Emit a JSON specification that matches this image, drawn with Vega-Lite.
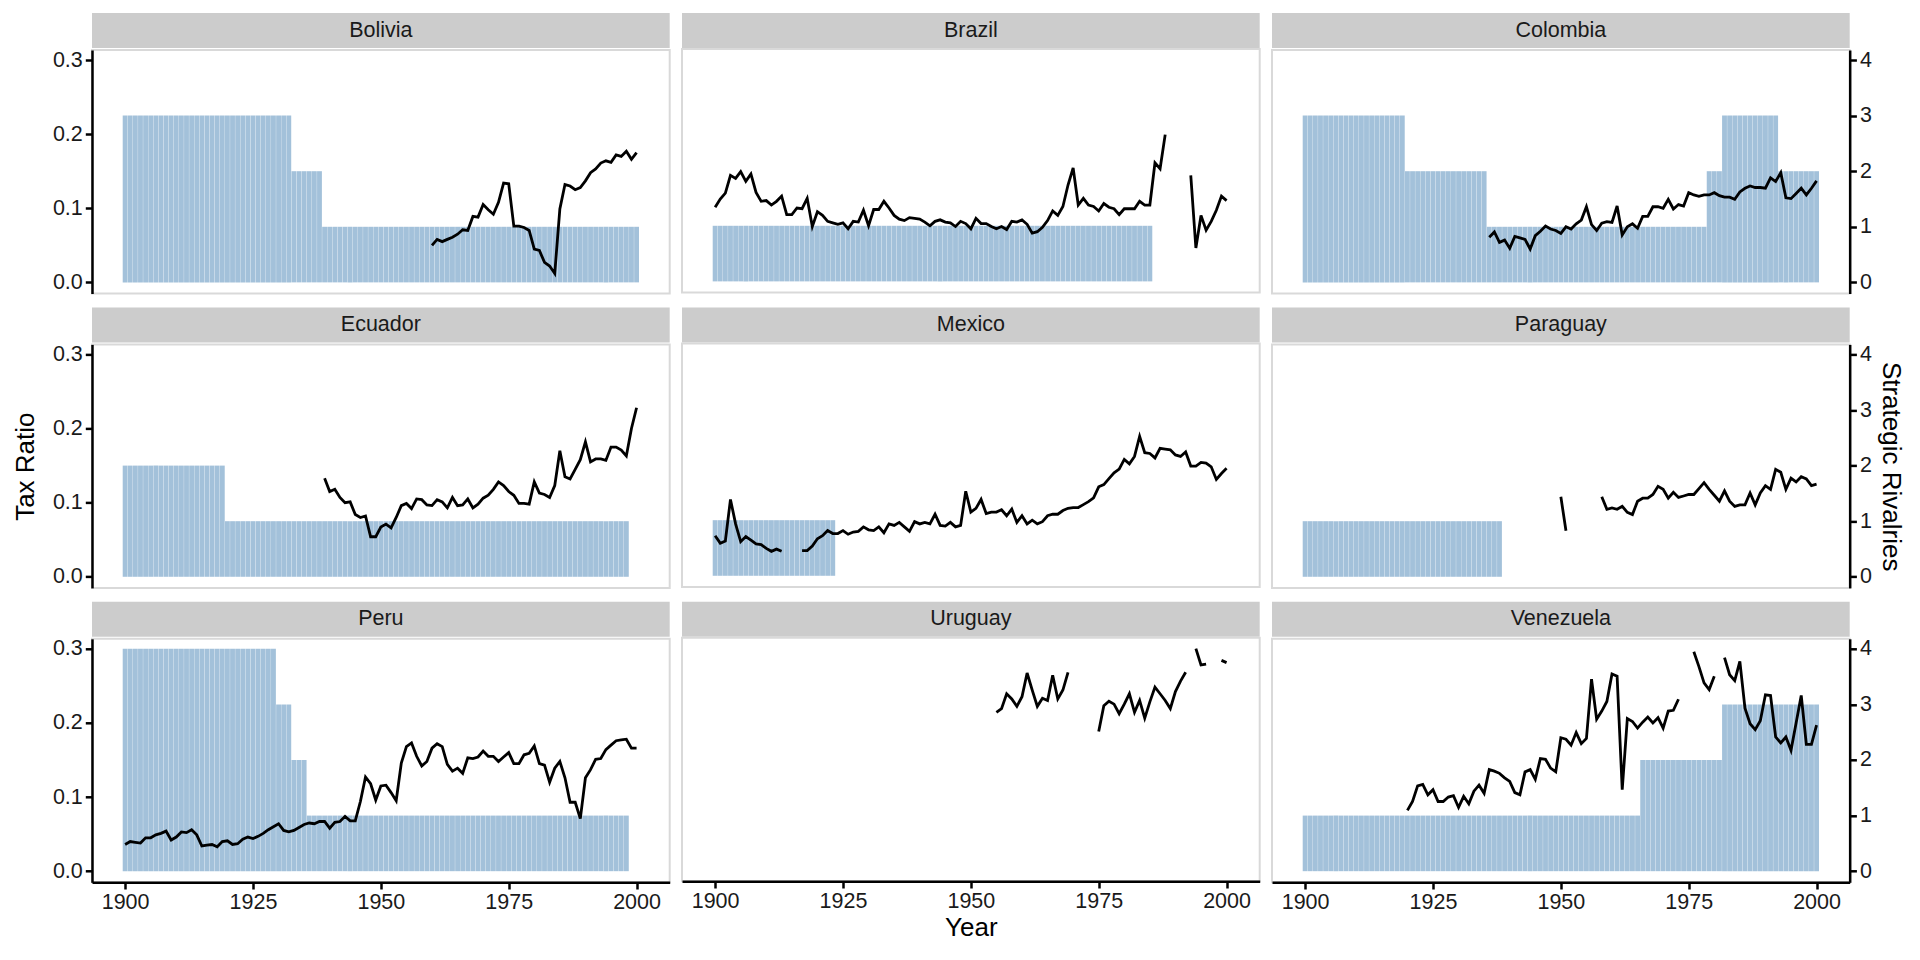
{
"$schema":"https://vega.github.io/schema/vega-lite/v6.json",
"background":"white",
"padding":{"left":11,"top":13,"right":10,"bottom":10},
"datasets":{
"Bolivia":[{"year":1900,"riv":3},{"year":1901,"riv":3},{"year":1902,"riv":3},{"year":1903,"riv":3},{"year":1904,"riv":3},{"year":1905,"riv":3},{"year":1906,"riv":3},{"year":1907,"riv":3},{"year":1908,"riv":3},{"year":1909,"riv":3},{"year":1910,"riv":3},{"year":1911,"riv":3},{"year":1912,"riv":3},{"year":1913,"riv":3},{"year":1914,"riv":3},{"year":1915,"riv":3},{"year":1916,"riv":3},{"year":1917,"riv":3},{"year":1918,"riv":3},{"year":1919,"riv":3},{"year":1920,"riv":3},{"year":1921,"riv":3},{"year":1922,"riv":3},{"year":1923,"riv":3},{"year":1924,"riv":3},{"year":1925,"riv":3},{"year":1926,"riv":3},{"year":1927,"riv":3},{"year":1928,"riv":3},{"year":1929,"riv":3},{"year":1930,"riv":3},{"year":1931,"riv":3},{"year":1932,"riv":3},{"year":1933,"riv":2},{"year":1934,"riv":2},{"year":1935,"riv":2},{"year":1936,"riv":2},{"year":1937,"riv":2},{"year":1938,"riv":2},{"year":1939,"riv":1},{"year":1940,"riv":1},{"year":1941,"riv":1},{"year":1942,"riv":1},{"year":1943,"riv":1},{"year":1944,"riv":1},{"year":1945,"riv":1},{"year":1946,"riv":1},{"year":1947,"riv":1},{"year":1948,"riv":1},{"year":1949,"riv":1},{"year":1950,"riv":1},{"year":1951,"riv":1},{"year":1952,"riv":1},{"year":1953,"riv":1},{"year":1954,"riv":1},{"year":1955,"riv":1},{"year":1956,"riv":1},{"year":1957,"riv":1},{"year":1958,"riv":1},{"year":1959,"riv":1},{"year":1960,"riv":1,"tax":0.050},{"year":1961,"riv":1,"tax":0.058},{"year":1962,"riv":1,"tax":0.055},{"year":1963,"riv":1,"tax":0.058},{"year":1964,"riv":1,"tax":0.061},{"year":1965,"riv":1,"tax":0.065},{"year":1966,"riv":1,"tax":0.071},{"year":1967,"riv":1,"tax":0.070},{"year":1968,"riv":1,"tax":0.089},{"year":1969,"riv":1,"tax":0.088},{"year":1970,"riv":1,"tax":0.105},{"year":1971,"riv":1,"tax":0.098},{"year":1972,"riv":1,"tax":0.092},{"year":1973,"riv":1,"tax":0.108},{"year":1974,"riv":1,"tax":0.134},{"year":1975,"riv":1,"tax":0.133},{"year":1976,"riv":1,"tax":0.076},{"year":1977,"riv":1,"tax":0.076},{"year":1978,"riv":1,"tax":0.074},{"year":1979,"riv":1,"tax":0.070},{"year":1980,"riv":1,"tax":0.045},{"year":1981,"riv":1,"tax":0.043},{"year":1982,"riv":1,"tax":0.027},{"year":1983,"riv":1,"tax":0.022},{"year":1984,"riv":1,"tax":0.012},{"year":1985,"riv":1,"tax":0.099},{"year":1986,"riv":1,"tax":0.132},{"year":1987,"riv":1,"tax":0.130},{"year":1988,"riv":1,"tax":0.125},{"year":1989,"riv":1,"tax":0.128},{"year":1990,"riv":1,"tax":0.137},{"year":1991,"riv":1,"tax":0.148},{"year":1992,"riv":1,"tax":0.153},{"year":1993,"riv":1,"tax":0.161},{"year":1994,"riv":1,"tax":0.164},{"year":1995,"riv":1,"tax":0.162},{"year":1996,"riv":1,"tax":0.172},{"year":1997,"riv":1,"tax":0.170},{"year":1998,"riv":1,"tax":0.177},{"year":1999,"riv":1,"tax":0.166},{"year":2000,"riv":1,"tax":0.175}],
"Brazil":[{"year":1900,"riv":1,"tax":0.100},{"year":1901,"riv":1,"tax":0.111},{"year":1902,"riv":1,"tax":0.119},{"year":1903,"riv":1,"tax":0.143},{"year":1904,"riv":1,"tax":0.139},{"year":1905,"riv":1,"tax":0.148},{"year":1906,"riv":1,"tax":0.135},{"year":1907,"riv":1,"tax":0.145},{"year":1908,"riv":1,"tax":0.120},{"year":1909,"riv":1,"tax":0.108},{"year":1910,"riv":1,"tax":0.109},{"year":1911,"riv":1,"tax":0.103},{"year":1912,"riv":1,"tax":0.108},{"year":1913,"riv":1,"tax":0.115},{"year":1914,"riv":1,"tax":0.090},{"year":1915,"riv":1,"tax":0.090},{"year":1916,"riv":1,"tax":0.099},{"year":1917,"riv":1,"tax":0.098},{"year":1918,"riv":1,"tax":0.112},{"year":1919,"riv":1,"tax":0.074},{"year":1920,"riv":1,"tax":0.094},{"year":1921,"riv":1,"tax":0.089},{"year":1922,"riv":1,"tax":0.081},{"year":1923,"riv":1,"tax":0.079},{"year":1924,"riv":1,"tax":0.077},{"year":1925,"riv":1,"tax":0.079},{"year":1926,"riv":1,"tax":0.071},{"year":1927,"riv":1,"tax":0.081},{"year":1928,"riv":1,"tax":0.080},{"year":1929,"riv":1,"tax":0.096},{"year":1930,"riv":1,"tax":0.075},{"year":1931,"riv":1,"tax":0.097},{"year":1932,"riv":1,"tax":0.097},{"year":1933,"riv":1,"tax":0.108},{"year":1934,"riv":1,"tax":0.099},{"year":1935,"riv":1,"tax":0.089},{"year":1936,"riv":1,"tax":0.084},{"year":1937,"riv":1,"tax":0.082},{"year":1938,"riv":1,"tax":0.086},{"year":1939,"riv":1,"tax":0.085},{"year":1940,"riv":1,"tax":0.084},{"year":1941,"riv":1,"tax":0.080},{"year":1942,"riv":1,"tax":0.075},{"year":1943,"riv":1,"tax":0.081},{"year":1944,"riv":1,"tax":0.083},{"year":1945,"riv":1,"tax":0.080},{"year":1946,"riv":1,"tax":0.079},{"year":1947,"riv":1,"tax":0.074},{"year":1948,"riv":1,"tax":0.081},{"year":1949,"riv":1,"tax":0.078},{"year":1950,"riv":1,"tax":0.071},{"year":1951,"riv":1,"tax":0.085},{"year":1952,"riv":1,"tax":0.078},{"year":1953,"riv":1,"tax":0.078},{"year":1954,"riv":1,"tax":0.074},{"year":1955,"riv":1,"tax":0.071},{"year":1956,"riv":1,"tax":0.074},{"year":1957,"riv":1,"tax":0.070},{"year":1958,"riv":1,"tax":0.081},{"year":1959,"riv":1,"tax":0.080},{"year":1960,"riv":1,"tax":0.083},{"year":1961,"riv":1,"tax":0.077},{"year":1962,"riv":1,"tax":0.065},{"year":1963,"riv":1,"tax":0.067},{"year":1964,"riv":1,"tax":0.073},{"year":1965,"riv":1,"tax":0.082},{"year":1966,"riv":1,"tax":0.095},{"year":1967,"riv":1,"tax":0.089},{"year":1968,"riv":1,"tax":0.101},{"year":1969,"riv":1,"tax":0.130},{"year":1970,"riv":1,"tax":0.153},{"year":1971,"riv":1,"tax":0.103},{"year":1972,"riv":1,"tax":0.112},{"year":1973,"riv":1,"tax":0.103},{"year":1974,"riv":1,"tax":0.101},{"year":1975,"riv":1,"tax":0.095},{"year":1976,"riv":1,"tax":0.105},{"year":1977,"riv":1,"tax":0.100},{"year":1978,"riv":1,"tax":0.098},{"year":1979,"riv":1,"tax":0.090},{"year":1980,"riv":1,"tax":0.098},{"year":1981,"riv":1,"tax":0.098},{"year":1982,"riv":1,"tax":0.098},{"year":1983,"riv":1,"tax":0.108},{"year":1984,"riv":1,"tax":0.103},{"year":1985,"riv":1,"tax":0.103},{"year":1986,"tax":0.160},{"year":1987,"tax":0.152},{"year":1988,"tax":0.198},{"year":1989},{"year":1990},{"year":1991},{"year":1992},{"year":1993,"tax":0.143},{"year":1994,"tax":0.045},{"year":1995,"tax":0.089},{"year":1996,"tax":0.069},{"year":1997,"tax":0.081},{"year":1998,"tax":0.096},{"year":1999,"tax":0.115},{"year":2000,"tax":0.109}],
"Colombia":[{"year":1900,"riv":3},{"year":1901,"riv":3},{"year":1902,"riv":3},{"year":1903,"riv":3},{"year":1904,"riv":3},{"year":1905,"riv":3},{"year":1906,"riv":3},{"year":1907,"riv":3},{"year":1908,"riv":3},{"year":1909,"riv":3},{"year":1910,"riv":3},{"year":1911,"riv":3},{"year":1912,"riv":3},{"year":1913,"riv":3},{"year":1914,"riv":3},{"year":1915,"riv":3},{"year":1916,"riv":3},{"year":1917,"riv":3},{"year":1918,"riv":3},{"year":1919,"riv":3},{"year":1920,"riv":2},{"year":1921,"riv":2},{"year":1922,"riv":2},{"year":1923,"riv":2},{"year":1924,"riv":2},{"year":1925,"riv":2},{"year":1926,"riv":2},{"year":1927,"riv":2},{"year":1928,"riv":2},{"year":1929,"riv":2},{"year":1930,"riv":2},{"year":1931,"riv":2},{"year":1932,"riv":2},{"year":1933,"riv":2},{"year":1934,"riv":2},{"year":1935,"riv":2},{"year":1936,"riv":1,"tax":0.061},{"year":1937,"riv":1,"tax":0.068},{"year":1938,"riv":1,"tax":0.054},{"year":1939,"riv":1,"tax":0.057},{"year":1940,"riv":1,"tax":0.046},{"year":1941,"riv":1,"tax":0.062},{"year":1942,"riv":1,"tax":0.060},{"year":1943,"riv":1,"tax":0.058},{"year":1944,"riv":1,"tax":0.045},{"year":1945,"riv":1,"tax":0.063},{"year":1946,"riv":1,"tax":0.069},{"year":1947,"riv":1,"tax":0.076},{"year":1948,"riv":1,"tax":0.072},{"year":1949,"riv":1,"tax":0.070},{"year":1950,"riv":1,"tax":0.066},{"year":1951,"riv":1,"tax":0.075},{"year":1952,"riv":1,"tax":0.072},{"year":1953,"riv":1,"tax":0.079},{"year":1954,"riv":1,"tax":0.084},{"year":1955,"riv":1,"tax":0.102},{"year":1956,"riv":1,"tax":0.078},{"year":1957,"riv":1,"tax":0.070},{"year":1958,"riv":1,"tax":0.080},{"year":1959,"riv":1,"tax":0.082},{"year":1960,"riv":1,"tax":0.081},{"year":1961,"riv":1,"tax":0.103},{"year":1962,"riv":1,"tax":0.064},{"year":1963,"riv":1,"tax":0.075},{"year":1964,"riv":1,"tax":0.079},{"year":1965,"riv":1,"tax":0.073},{"year":1966,"riv":1,"tax":0.089},{"year":1967,"riv":1,"tax":0.089},{"year":1968,"riv":1,"tax":0.102},{"year":1969,"riv":1,"tax":0.102},{"year":1970,"riv":1,"tax":0.100},{"year":1971,"riv":1,"tax":0.112},{"year":1972,"riv":1,"tax":0.099},{"year":1973,"riv":1,"tax":0.105},{"year":1974,"riv":1,"tax":0.103},{"year":1975,"riv":1,"tax":0.121},{"year":1976,"riv":1,"tax":0.118},{"year":1977,"riv":1,"tax":0.116},{"year":1978,"riv":1,"tax":0.118},{"year":1979,"riv":2,"tax":0.118},{"year":1980,"riv":2,"tax":0.121},{"year":1981,"riv":2,"tax":0.117},{"year":1982,"riv":3,"tax":0.115},{"year":1983,"riv":3,"tax":0.115},{"year":1984,"riv":3,"tax":0.112},{"year":1985,"riv":3,"tax":0.122},{"year":1986,"riv":3,"tax":0.127},{"year":1987,"riv":3,"tax":0.130},{"year":1988,"riv":3,"tax":0.128},{"year":1989,"riv":3,"tax":0.128},{"year":1990,"riv":3,"tax":0.127},{"year":1991,"riv":3,"tax":0.141},{"year":1992,"riv":3,"tax":0.136},{"year":1993,"riv":2,"tax":0.148},{"year":1994,"riv":2,"tax":0.114},{"year":1995,"riv":2,"tax":0.113},{"year":1996,"riv":2,"tax":0.120},{"year":1997,"riv":2,"tax":0.127},{"year":1998,"riv":2,"tax":0.118},{"year":1999,"riv":2,"tax":0.127},{"year":2000,"riv":2,"tax":0.137}],
"Ecuador":[{"year":1900,"riv":2},{"year":1901,"riv":2},{"year":1902,"riv":2},{"year":1903,"riv":2},{"year":1904,"riv":2},{"year":1905,"riv":2},{"year":1906,"riv":2},{"year":1907,"riv":2},{"year":1908,"riv":2},{"year":1909,"riv":2},{"year":1910,"riv":2},{"year":1911,"riv":2},{"year":1912,"riv":2},{"year":1913,"riv":2},{"year":1914,"riv":2},{"year":1915,"riv":2},{"year":1916,"riv":2},{"year":1917,"riv":2},{"year":1918,"riv":2},{"year":1919,"riv":2},{"year":1920,"riv":1},{"year":1921,"riv":1},{"year":1922,"riv":1},{"year":1923,"riv":1},{"year":1924,"riv":1},{"year":1925,"riv":1},{"year":1926,"riv":1},{"year":1927,"riv":1},{"year":1928,"riv":1},{"year":1929,"riv":1},{"year":1930,"riv":1},{"year":1931,"riv":1},{"year":1932,"riv":1},{"year":1933,"riv":1},{"year":1934,"riv":1},{"year":1935,"riv":1},{"year":1936,"riv":1},{"year":1937,"riv":1},{"year":1938,"riv":1},{"year":1939,"riv":1,"tax":0.133},{"year":1940,"riv":1,"tax":0.115},{"year":1941,"riv":1,"tax":0.118},{"year":1942,"riv":1,"tax":0.107},{"year":1943,"riv":1,"tax":0.100},{"year":1944,"riv":1,"tax":0.101},{"year":1945,"riv":1,"tax":0.084},{"year":1946,"riv":1,"tax":0.080},{"year":1947,"riv":1,"tax":0.082},{"year":1948,"riv":1,"tax":0.054},{"year":1949,"riv":1,"tax":0.054},{"year":1950,"riv":1,"tax":0.067},{"year":1951,"riv":1,"tax":0.071},{"year":1952,"riv":1,"tax":0.066},{"year":1953,"riv":1,"tax":0.080},{"year":1954,"riv":1,"tax":0.096},{"year":1955,"riv":1,"tax":0.099},{"year":1956,"riv":1,"tax":0.092},{"year":1957,"riv":1,"tax":0.105},{"year":1958,"riv":1,"tax":0.104},{"year":1959,"riv":1,"tax":0.097},{"year":1960,"riv":1,"tax":0.096},{"year":1961,"riv":1,"tax":0.104},{"year":1962,"riv":1,"tax":0.101},{"year":1963,"riv":1,"tax":0.093},{"year":1964,"riv":1,"tax":0.107},{"year":1965,"riv":1,"tax":0.096},{"year":1966,"riv":1,"tax":0.097},{"year":1967,"riv":1,"tax":0.105},{"year":1968,"riv":1,"tax":0.093},{"year":1969,"riv":1,"tax":0.098},{"year":1970,"riv":1,"tax":0.106},{"year":1971,"riv":1,"tax":0.110},{"year":1972,"riv":1,"tax":0.118},{"year":1973,"riv":1,"tax":0.128},{"year":1974,"riv":1,"tax":0.123},{"year":1975,"riv":1,"tax":0.115},{"year":1976,"riv":1,"tax":0.110},{"year":1977,"riv":1,"tax":0.099},{"year":1978,"riv":1,"tax":0.099},{"year":1979,"riv":1,"tax":0.098},{"year":1980,"riv":1,"tax":0.128},{"year":1981,"riv":1,"tax":0.113},{"year":1982,"riv":1,"tax":0.111},{"year":1983,"riv":1,"tax":0.107},{"year":1984,"riv":1,"tax":0.123},{"year":1985,"riv":1,"tax":0.170},{"year":1986,"riv":1,"tax":0.135},{"year":1987,"riv":1,"tax":0.132},{"year":1988,"riv":1,"tax":0.145},{"year":1989,"riv":1,"tax":0.158},{"year":1990,"riv":1,"tax":0.182},{"year":1991,"riv":1,"tax":0.155},{"year":1992,"riv":1,"tax":0.159},{"year":1993,"riv":1,"tax":0.159},{"year":1994,"riv":1,"tax":0.157},{"year":1995,"riv":1,"tax":0.175},{"year":1996,"riv":1,"tax":0.175},{"year":1997,"riv":1,"tax":0.171},{"year":1998,"riv":1,"tax":0.163},{"year":1999,"tax":0.200},{"year":2000,"tax":0.228}],
"Mexico":[{"year":1900,"riv":1,"tax":0.054},{"year":1901,"riv":1,"tax":0.044},{"year":1902,"riv":1,"tax":0.047},{"year":1903,"riv":1,"tax":0.103},{"year":1904,"riv":1,"tax":0.070},{"year":1905,"riv":1,"tax":0.046},{"year":1906,"riv":1,"tax":0.053},{"year":1907,"riv":1,"tax":0.048},{"year":1908,"riv":1,"tax":0.043},{"year":1909,"riv":1,"tax":0.042},{"year":1910,"riv":1,"tax":0.037},{"year":1911,"riv":1,"tax":0.033},{"year":1912,"riv":1,"tax":0.036},{"year":1913,"riv":1,"tax":0.033},{"year":1914,"riv":1},{"year":1915,"riv":1},{"year":1916,"riv":1},{"year":1917,"riv":1,"tax":0.034},{"year":1918,"riv":1,"tax":0.034},{"year":1919,"riv":1,"tax":0.040},{"year":1920,"riv":1,"tax":0.050},{"year":1921,"riv":1,"tax":0.054},{"year":1922,"riv":1,"tax":0.061},{"year":1923,"riv":1,"tax":0.057},{"year":1924,"tax":0.057},{"year":1925,"tax":0.061},{"year":1926,"tax":0.056},{"year":1927,"tax":0.059},{"year":1928,"tax":0.060},{"year":1929,"tax":0.066},{"year":1930,"tax":0.062},{"year":1931,"tax":0.061},{"year":1932,"tax":0.066},{"year":1933,"tax":0.058},{"year":1934,"tax":0.070},{"year":1935,"tax":0.068},{"year":1936,"tax":0.072},{"year":1937,"tax":0.066},{"year":1938,"tax":0.060},{"year":1939,"tax":0.073},{"year":1940,"tax":0.070},{"year":1941,"tax":0.072},{"year":1942,"tax":0.070},{"year":1943,"tax":0.083},{"year":1944,"tax":0.068},{"year":1945,"tax":0.067},{"year":1946,"tax":0.072},{"year":1947,"tax":0.066},{"year":1948,"tax":0.068},{"year":1949,"tax":0.114},{"year":1950,"tax":0.086},{"year":1951,"tax":0.091},{"year":1952,"tax":0.103},{"year":1953,"tax":0.084},{"year":1954,"tax":0.086},{"year":1955,"tax":0.086},{"year":1956,"tax":0.089},{"year":1957,"tax":0.081},{"year":1958,"tax":0.090},{"year":1959,"tax":0.072},{"year":1960,"tax":0.081},{"year":1961,"tax":0.070},{"year":1962,"tax":0.075},{"year":1963,"tax":0.070},{"year":1964,"tax":0.073},{"year":1965,"tax":0.081},{"year":1966,"tax":0.083},{"year":1967,"tax":0.083},{"year":1968,"tax":0.088},{"year":1969,"tax":0.091},{"year":1970,"tax":0.092},{"year":1971,"tax":0.092},{"year":1972,"tax":0.096},{"year":1973,"tax":0.100},{"year":1974,"tax":0.105},{"year":1975,"tax":0.120},{"year":1976,"tax":0.123},{"year":1977,"tax":0.131},{"year":1978,"tax":0.139},{"year":1979,"tax":0.144},{"year":1980,"tax":0.157},{"year":1981,"tax":0.151},{"year":1982,"tax":0.161},{"year":1983,"tax":0.188},{"year":1984,"tax":0.166},{"year":1985,"tax":0.165},{"year":1986,"tax":0.159},{"year":1987,"tax":0.172},{"year":1988,"tax":0.171},{"year":1989,"tax":0.170},{"year":1990,"tax":0.163},{"year":1991,"tax":0.161},{"year":1992,"tax":0.167},{"year":1993,"tax":0.148},{"year":1994,"tax":0.148},{"year":1995,"tax":0.153},{"year":1996,"tax":0.152},{"year":1997,"tax":0.147},{"year":1998,"tax":0.130},{"year":1999,"tax":0.138},{"year":2000,"tax":0.145}],
"Paraguay":[{"year":1900,"riv":1},{"year":1901,"riv":1},{"year":1902,"riv":1},{"year":1903,"riv":1},{"year":1904,"riv":1},{"year":1905,"riv":1},{"year":1906,"riv":1},{"year":1907,"riv":1},{"year":1908,"riv":1},{"year":1909,"riv":1},{"year":1910,"riv":1},{"year":1911,"riv":1},{"year":1912,"riv":1},{"year":1913,"riv":1},{"year":1914,"riv":1},{"year":1915,"riv":1},{"year":1916,"riv":1},{"year":1917,"riv":1},{"year":1918,"riv":1},{"year":1919,"riv":1},{"year":1920,"riv":1},{"year":1921,"riv":1},{"year":1922,"riv":1},{"year":1923,"riv":1},{"year":1924,"riv":1},{"year":1925,"riv":1},{"year":1926,"riv":1},{"year":1927,"riv":1},{"year":1928,"riv":1},{"year":1929,"riv":1},{"year":1930,"riv":1},{"year":1931,"riv":1},{"year":1932,"riv":1},{"year":1933,"riv":1},{"year":1934,"riv":1},{"year":1935,"riv":1},{"year":1936,"riv":1},{"year":1937,"riv":1},{"year":1938,"riv":1},{"year":1950,"tax":0.108},{"year":1951,"tax":0.062},{"year":1952},{"year":1958,"tax":0.108},{"year":1959,"tax":0.091},{"year":1960,"tax":0.093},{"year":1961,"tax":0.091},{"year":1962,"tax":0.095},{"year":1963,"tax":0.087},{"year":1964,"tax":0.084},{"year":1965,"tax":0.102},{"year":1966,"tax":0.106},{"year":1967,"tax":0.106},{"year":1968,"tax":0.111},{"year":1969,"tax":0.122},{"year":1970,"tax":0.118},{"year":1971,"tax":0.106},{"year":1972,"tax":0.114},{"year":1973,"tax":0.107},{"year":1974,"tax":0.109},{"year":1975,"tax":0.111},{"year":1976,"tax":0.111},{"year":1977,"tax":0.119},{"year":1978,"tax":0.127},{"year":1979,"tax":0.118},{"year":1980,"tax":0.110},{"year":1981,"tax":0.102},{"year":1982,"tax":0.116},{"year":1983,"tax":0.102},{"year":1984,"tax":0.095},{"year":1985,"tax":0.097},{"year":1986,"tax":0.097},{"year":1987,"tax":0.113},{"year":1988,"tax":0.097},{"year":1989,"tax":0.113},{"year":1990,"tax":0.123},{"year":1991,"tax":0.118},{"year":1992,"tax":0.145},{"year":1993,"tax":0.141},{"year":1994,"tax":0.118},{"year":1995,"tax":0.133},{"year":1996,"tax":0.128},{"year":1997,"tax":0.135},{"year":1998,"tax":0.132},{"year":1999,"tax":0.123},{"year":2000,"tax":0.125}],
"Peru":[{"year":1900,"riv":4,"tax":0.036},{"year":1901,"riv":4,"tax":0.040},{"year":1902,"riv":4,"tax":0.039},{"year":1903,"riv":4,"tax":0.038},{"year":1904,"riv":4,"tax":0.045},{"year":1905,"riv":4,"tax":0.045},{"year":1906,"riv":4,"tax":0.049},{"year":1907,"riv":4,"tax":0.051},{"year":1908,"riv":4,"tax":0.054},{"year":1909,"riv":4,"tax":0.042},{"year":1910,"riv":4,"tax":0.046},{"year":1911,"riv":4,"tax":0.053},{"year":1912,"riv":4,"tax":0.052},{"year":1913,"riv":4,"tax":0.056},{"year":1914,"riv":4,"tax":0.049},{"year":1915,"riv":4,"tax":0.034},{"year":1916,"riv":4,"tax":0.035},{"year":1917,"riv":4,"tax":0.036},{"year":1918,"riv":4,"tax":0.033},{"year":1919,"riv":4,"tax":0.040},{"year":1920,"riv":4,"tax":0.041},{"year":1921,"riv":4,"tax":0.036},{"year":1922,"riv":4,"tax":0.037},{"year":1923,"riv":4,"tax":0.043},{"year":1924,"riv":4,"tax":0.046},{"year":1925,"riv":4,"tax":0.044},{"year":1926,"riv":4,"tax":0.047},{"year":1927,"riv":4,"tax":0.051},{"year":1928,"riv":4,"tax":0.056},{"year":1929,"riv":4,"tax":0.060},{"year":1930,"riv":3,"tax":0.064},{"year":1931,"riv":3,"tax":0.055},{"year":1932,"riv":3,"tax":0.053},{"year":1933,"riv":2,"tax":0.055},{"year":1934,"riv":2,"tax":0.059},{"year":1935,"riv":2,"tax":0.063},{"year":1936,"riv":1,"tax":0.065},{"year":1937,"riv":1,"tax":0.064},{"year":1938,"riv":1,"tax":0.067},{"year":1939,"riv":1,"tax":0.067},{"year":1940,"riv":1,"tax":0.058},{"year":1941,"riv":1,"tax":0.066},{"year":1942,"riv":1,"tax":0.067},{"year":1943,"riv":1,"tax":0.074},{"year":1944,"riv":1,"tax":0.068},{"year":1945,"riv":1,"tax":0.068},{"year":1946,"riv":1,"tax":0.094},{"year":1947,"riv":1,"tax":0.127},{"year":1948,"riv":1,"tax":0.118},{"year":1949,"riv":1,"tax":0.096},{"year":1950,"riv":1,"tax":0.115},{"year":1951,"riv":1,"tax":0.116},{"year":1952,"riv":1,"tax":0.106},{"year":1953,"riv":1,"tax":0.095},{"year":1954,"riv":1,"tax":0.146},{"year":1955,"riv":1,"tax":0.168},{"year":1956,"riv":1,"tax":0.173},{"year":1957,"riv":1,"tax":0.155},{"year":1958,"riv":1,"tax":0.142},{"year":1959,"riv":1,"tax":0.148},{"year":1960,"riv":1,"tax":0.166},{"year":1961,"riv":1,"tax":0.172},{"year":1962,"riv":1,"tax":0.168},{"year":1963,"riv":1,"tax":0.144},{"year":1964,"riv":1,"tax":0.135},{"year":1965,"riv":1,"tax":0.139},{"year":1966,"riv":1,"tax":0.132},{"year":1967,"riv":1,"tax":0.153},{"year":1968,"riv":1,"tax":0.152},{"year":1969,"riv":1,"tax":0.154},{"year":1970,"riv":1,"tax":0.162},{"year":1971,"riv":1,"tax":0.155},{"year":1972,"riv":1,"tax":0.155},{"year":1973,"riv":1,"tax":0.148},{"year":1974,"riv":1,"tax":0.154},{"year":1975,"riv":1,"tax":0.160},{"year":1976,"riv":1,"tax":0.145},{"year":1977,"riv":1,"tax":0.145},{"year":1978,"riv":1,"tax":0.157},{"year":1979,"riv":1,"tax":0.159},{"year":1980,"riv":1,"tax":0.169},{"year":1981,"riv":1,"tax":0.145},{"year":1982,"riv":1,"tax":0.143},{"year":1983,"riv":1,"tax":0.120},{"year":1984,"riv":1,"tax":0.139},{"year":1985,"riv":1,"tax":0.148},{"year":1986,"riv":1,"tax":0.126},{"year":1987,"riv":1,"tax":0.093},{"year":1988,"riv":1,"tax":0.093},{"year":1989,"riv":1,"tax":0.071},{"year":1990,"riv":1,"tax":0.126},{"year":1991,"riv":1,"tax":0.137},{"year":1992,"riv":1,"tax":0.151},{"year":1993,"riv":1,"tax":0.152},{"year":1994,"riv":1,"tax":0.164},{"year":1995,"riv":1,"tax":0.170},{"year":1996,"riv":1,"tax":0.176},{"year":1997,"riv":1,"tax":0.177},{"year":1998,"riv":1,"tax":0.178},{"year":1999,"tax":0.166},{"year":2000,"tax":0.166}],
"Uruguay":[{"year":1955,"tax":0.213},{"year":1956,"tax":0.218},{"year":1957,"tax":0.238},{"year":1958,"tax":0.231},{"year":1959,"tax":0.221},{"year":1960,"tax":0.234},{"year":1961,"tax":0.266},{"year":1962,"tax":0.243},{"year":1963,"tax":0.221},{"year":1964,"tax":0.232},{"year":1965,"tax":0.229},{"year":1966,"tax":0.263},{"year":1967,"tax":0.231},{"year":1968,"tax":0.243},{"year":1969,"tax":0.267},{"year":1970},{"year":1975,"tax":0.187},{"year":1976,"tax":0.222},{"year":1977,"tax":0.228},{"year":1978,"tax":0.224},{"year":1979,"tax":0.211},{"year":1980,"tax":0.224},{"year":1981,"tax":0.238},{"year":1982,"tax":0.213},{"year":1983,"tax":0.229},{"year":1984,"tax":0.205},{"year":1985,"tax":0.227},{"year":1986,"tax":0.247},{"year":1987,"tax":0.238},{"year":1988,"tax":0.229},{"year":1989,"tax":0.218},{"year":1990,"tax":0.241},{"year":1991,"tax":0.255},{"year":1992,"tax":0.267},{"year":1993},{"year":1994,"tax":0.299},{"year":1995,"tax":0.277},{"year":1996,"tax":0.278},{"year":1997},{"year":1999,"tax":0.283},{"year":2000,"tax":0.280}],
"Venezuela":[{"year":1900,"riv":1},{"year":1901,"riv":1},{"year":1902,"riv":1},{"year":1903,"riv":1},{"year":1904,"riv":1},{"year":1905,"riv":1},{"year":1906,"riv":1},{"year":1907,"riv":1},{"year":1908,"riv":1},{"year":1909,"riv":1},{"year":1910,"riv":1},{"year":1911,"riv":1},{"year":1912,"riv":1},{"year":1913,"riv":1},{"year":1914,"riv":1},{"year":1915,"riv":1},{"year":1916,"riv":1},{"year":1917,"riv":1},{"year":1918,"riv":1},{"year":1919,"riv":1},{"year":1920,"riv":1,"tax":0.082},{"year":1921,"riv":1,"tax":0.094},{"year":1922,"riv":1,"tax":0.115},{"year":1923,"riv":1,"tax":0.117},{"year":1924,"riv":1,"tax":0.103},{"year":1925,"riv":1,"tax":0.110},{"year":1926,"riv":1,"tax":0.094},{"year":1927,"riv":1,"tax":0.094},{"year":1928,"riv":1,"tax":0.100},{"year":1929,"riv":1,"tax":0.102},{"year":1930,"riv":1,"tax":0.086},{"year":1931,"riv":1,"tax":0.101},{"year":1932,"riv":1,"tax":0.091},{"year":1933,"riv":1,"tax":0.108},{"year":1934,"riv":1,"tax":0.116},{"year":1935,"riv":1,"tax":0.105},{"year":1936,"riv":1,"tax":0.137},{"year":1937,"riv":1,"tax":0.135},{"year":1938,"riv":1,"tax":0.132},{"year":1939,"riv":1,"tax":0.126},{"year":1940,"riv":1,"tax":0.121},{"year":1941,"riv":1,"tax":0.106},{"year":1942,"riv":1,"tax":0.103},{"year":1943,"riv":1,"tax":0.134},{"year":1944,"riv":1,"tax":0.137},{"year":1945,"riv":1,"tax":0.124},{"year":1946,"riv":1,"tax":0.152},{"year":1947,"riv":1,"tax":0.151},{"year":1948,"riv":1,"tax":0.139},{"year":1949,"riv":1,"tax":0.134},{"year":1950,"riv":1,"tax":0.180},{"year":1951,"riv":1,"tax":0.178},{"year":1952,"riv":1,"tax":0.170},{"year":1953,"riv":1,"tax":0.187},{"year":1954,"riv":1,"tax":0.172},{"year":1955,"riv":1,"tax":0.179},{"year":1956,"riv":1,"tax":0.259},{"year":1957,"riv":1,"tax":0.205},{"year":1958,"riv":1,"tax":0.216},{"year":1959,"riv":1,"tax":0.229},{"year":1960,"riv":1,"tax":0.266},{"year":1961,"riv":1,"tax":0.263},{"year":1962,"riv":1,"tax":0.110},{"year":1963,"riv":1,"tax":0.206},{"year":1964,"riv":1,"tax":0.202},{"year":1965,"riv":1,"tax":0.193},{"year":1966,"riv":2,"tax":0.201},{"year":1967,"riv":2,"tax":0.208},{"year":1968,"riv":2,"tax":0.200},{"year":1969,"riv":2,"tax":0.207},{"year":1970,"riv":2,"tax":0.193},{"year":1971,"riv":2,"tax":0.216},{"year":1972,"riv":2,"tax":0.217},{"year":1973,"riv":2,"tax":0.232},{"year":1974,"riv":2},{"year":1975,"riv":2},{"year":1976,"riv":2,"tax":0.296},{"year":1977,"riv":2,"tax":0.276},{"year":1978,"riv":2,"tax":0.254},{"year":1979,"riv":2,"tax":0.245},{"year":1980,"riv":2,"tax":0.263},{"year":1981,"riv":2},{"year":1982,"riv":3,"tax":0.288},{"year":1983,"riv":3,"tax":0.265},{"year":1984,"riv":3,"tax":0.257},{"year":1985,"riv":3,"tax":0.283},{"year":1986,"riv":3,"tax":0.220},{"year":1987,"riv":3,"tax":0.199},{"year":1988,"riv":3,"tax":0.191},{"year":1989,"riv":3,"tax":0.203},{"year":1990,"riv":3,"tax":0.238},{"year":1991,"riv":3,"tax":0.237},{"year":1992,"riv":3,"tax":0.181},{"year":1993,"riv":3,"tax":0.173},{"year":1994,"riv":3,"tax":0.181},{"year":1995,"riv":3,"tax":0.163},{"year":1996,"riv":3,"tax":0.200},{"year":1997,"riv":3,"tax":0.237},{"year":1998,"riv":3,"tax":0.171},{"year":1999,"riv":3,"tax":0.171},{"year":2000,"riv":3,"tax":0.197}]
},
"columns":3,
"align":"each",
"spacing":{"row":12.4,"column":10},
"concat":[
{"spacing":0,"vconcat":[
 {"data":{"values":[{"country":"Bolivia"}]},"width":577.7,"height":35,"view":{"fill":"#CCCCCC","stroke":null},"mark":{"type":"text","fontSize":21.5,"color":"#1A1A1A","align":"center","baseline":"middle"},"encoding":{"text":{"field":"country"}}},
 {"data":{"name":"Bolivia"},"width":577.7,"height":243.5,
  "encoding":{"x":{"field":"year","type":"quantitative","scale":{"domain":[1894.5,2005.5],"nice":false,"zero":false},"axis":null}},
  "layer":[
   {"mark":{"type":"bar","width":4.85,"color":"#A3C1DA"},"encoding":{"y":{"field":"riv","type":"quantitative","scale":{"domain":[-0.2,4.18],"nice":false},"axis":null}}},
   {"mark":{"type":"line","color":"#000000","strokeWidth":2.8},"encoding":{"y":{"field":"tax","type":"quantitative","scale":{"domain":[-0.015,0.3135],"nice":false},"axis":{"orient":"left","values":[0,0.1,0.2,0.3],"format":".1f","title":null}}}}
  ],
  "resolve":{"scale":{"y":"independent"},"axis":{"y":"independent"}}}
]},
{"spacing":0,"vconcat":[
 {"data":{"values":[{"country":"Brazil"}]},"width":577.7,"height":35,"view":{"fill":"#CCCCCC","stroke":null},"mark":{"type":"text","fontSize":21.5,"color":"#1A1A1A","align":"center","baseline":"middle"},"encoding":{"text":{"field":"country"}}},
 {"data":{"name":"Brazil"},"width":577.7,"height":243.5,
  "encoding":{"x":{"field":"year","type":"quantitative","scale":{"domain":[1894.5,2005.5],"nice":false,"zero":false},"axis":null}},
  "layer":[
   {"mark":{"type":"bar","width":4.85,"color":"#A3C1DA"},"encoding":{"y":{"field":"riv","type":"quantitative","scale":{"domain":[-0.2,4.18],"nice":false},"axis":null}}},
   {"mark":{"type":"line","color":"#000000","strokeWidth":2.8},"encoding":{"y":{"field":"tax","type":"quantitative","scale":{"domain":[-0.015,0.3135],"nice":false},"axis":null}}}
  ],
  "resolve":{"scale":{"y":"independent"},"axis":{"y":"independent"}}}
]},
{"spacing":0,"vconcat":[
 {"data":{"values":[{"country":"Colombia"}]},"width":577.7,"height":35,"view":{"fill":"#CCCCCC","stroke":null},"mark":{"type":"text","fontSize":21.5,"color":"#1A1A1A","align":"center","baseline":"middle"},"encoding":{"text":{"field":"country"}}},
 {"data":{"name":"Colombia"},"width":577.7,"height":243.5,
  "encoding":{"x":{"field":"year","type":"quantitative","scale":{"domain":[1894.5,2005.5],"nice":false,"zero":false},"axis":null}},
  "layer":[
   {"mark":{"type":"bar","width":4.85,"color":"#A3C1DA"},"encoding":{"y":{"field":"riv","type":"quantitative","scale":{"domain":[-0.2,4.18],"nice":false},"axis":{"orient":"right","values":[0,1,2,3,4],"format":"d","title":null}}}},
   {"mark":{"type":"line","color":"#000000","strokeWidth":2.8},"encoding":{"y":{"field":"tax","type":"quantitative","scale":{"domain":[-0.015,0.3135],"nice":false},"axis":null}}}
  ],
  "resolve":{"scale":{"y":"independent"},"axis":{"y":"independent"}}}
]},
{"spacing":0,"vconcat":[
 {"data":{"values":[{"country":"Ecuador"}]},"width":577.7,"height":35,"view":{"fill":"#CCCCCC","stroke":null},"mark":{"type":"text","fontSize":21.5,"color":"#1A1A1A","align":"center","baseline":"middle"},"encoding":{"text":{"field":"country"}}},
 {"data":{"name":"Ecuador"},"width":577.7,"height":243.5,
  "encoding":{"x":{"field":"year","type":"quantitative","scale":{"domain":[1894.5,2005.5],"nice":false,"zero":false},"axis":null}},
  "layer":[
   {"mark":{"type":"bar","width":4.85,"color":"#A3C1DA"},"encoding":{"y":{"field":"riv","type":"quantitative","scale":{"domain":[-0.2,4.18],"nice":false},"axis":null}}},
   {"mark":{"type":"line","color":"#000000","strokeWidth":2.8},"encoding":{"y":{"field":"tax","type":"quantitative","scale":{"domain":[-0.015,0.3135],"nice":false},"axis":{"orient":"left","values":[0,0.1,0.2,0.3],"format":".1f","title":"Tax Ratio","titlePadding":14}}}}
  ],
  "resolve":{"scale":{"y":"independent"},"axis":{"y":"independent"}}}
]},
{"spacing":0,"vconcat":[
 {"data":{"values":[{"country":"Mexico"}]},"width":577.7,"height":35,"view":{"fill":"#CCCCCC","stroke":null},"mark":{"type":"text","fontSize":21.5,"color":"#1A1A1A","align":"center","baseline":"middle"},"encoding":{"text":{"field":"country"}}},
 {"data":{"name":"Mexico"},"width":577.7,"height":243.5,
  "encoding":{"x":{"field":"year","type":"quantitative","scale":{"domain":[1894.5,2005.5],"nice":false,"zero":false},"axis":null}},
  "layer":[
   {"mark":{"type":"bar","width":4.85,"color":"#A3C1DA"},"encoding":{"y":{"field":"riv","type":"quantitative","scale":{"domain":[-0.2,4.18],"nice":false},"axis":null}}},
   {"mark":{"type":"line","color":"#000000","strokeWidth":2.8},"encoding":{"y":{"field":"tax","type":"quantitative","scale":{"domain":[-0.015,0.3135],"nice":false},"axis":null}}}
  ],
  "resolve":{"scale":{"y":"independent"},"axis":{"y":"independent"}}}
]},
{"spacing":0,"vconcat":[
 {"data":{"values":[{"country":"Paraguay"}]},"width":577.7,"height":35,"view":{"fill":"#CCCCCC","stroke":null},"mark":{"type":"text","fontSize":21.5,"color":"#1A1A1A","align":"center","baseline":"middle"},"encoding":{"text":{"field":"country"}}},
 {"data":{"name":"Paraguay"},"width":577.7,"height":243.5,
  "encoding":{"x":{"field":"year","type":"quantitative","scale":{"domain":[1894.5,2005.5],"nice":false,"zero":false},"axis":null}},
  "layer":[
   {"mark":{"type":"bar","width":4.85,"color":"#A3C1DA"},"encoding":{"y":{"field":"riv","type":"quantitative","scale":{"domain":[-0.2,4.18],"nice":false},"axis":{"orient":"right","values":[0,1,2,3,4],"format":"d","title":"Strategic Rivalries","titlePadding":6}}}},
   {"mark":{"type":"line","color":"#000000","strokeWidth":2.8},"encoding":{"y":{"field":"tax","type":"quantitative","scale":{"domain":[-0.015,0.3135],"nice":false},"axis":null}}}
  ],
  "resolve":{"scale":{"y":"independent"},"axis":{"y":"independent"}}}
]},
{"spacing":0,"vconcat":[
 {"data":{"values":[{"country":"Peru"}]},"width":577.7,"height":35,"view":{"fill":"#CCCCCC","stroke":null},"mark":{"type":"text","fontSize":21.5,"color":"#1A1A1A","align":"center","baseline":"middle"},"encoding":{"text":{"field":"country"}}},
 {"data":{"name":"Peru"},"width":577.7,"height":243.5,
  "encoding":{"x":{"field":"year","type":"quantitative","scale":{"domain":[1894.5,2005.5],"nice":false,"zero":false},"axis":{"values":[1900,1925,1950,1975,2000],"format":"d","title":null,"labelPadding":2}}},
  "layer":[
   {"mark":{"type":"bar","width":4.85,"color":"#A3C1DA"},"encoding":{"y":{"field":"riv","type":"quantitative","scale":{"domain":[-0.2,4.18],"nice":false},"axis":null}}},
   {"mark":{"type":"line","color":"#000000","strokeWidth":2.8},"encoding":{"y":{"field":"tax","type":"quantitative","scale":{"domain":[-0.015,0.3135],"nice":false},"axis":{"orient":"left","values":[0,0.1,0.2,0.3],"format":".1f","title":null}}}}
  ],
  "resolve":{"scale":{"y":"independent"},"axis":{"y":"independent"}}}
]},
{"spacing":0,"vconcat":[
 {"data":{"values":[{"country":"Uruguay"}]},"width":577.7,"height":35,"view":{"fill":"#CCCCCC","stroke":null},"mark":{"type":"text","fontSize":21.5,"color":"#1A1A1A","align":"center","baseline":"middle"},"encoding":{"text":{"field":"country"}}},
 {"data":{"name":"Uruguay"},"width":577.7,"height":243.5,
  "encoding":{"x":{"field":"year","type":"quantitative","scale":{"domain":[1894.5,2005.5],"nice":false,"zero":false},"axis":{"values":[1900,1925,1950,1975,2000],"format":"d","title":"Year","titlePadding":3,"labelPadding":2}}},
  "layer":[
   {"mark":{"type":"bar","width":4.85,"color":"#A3C1DA"},"encoding":{"y":{"field":"riv","type":"quantitative","scale":{"domain":[-0.2,4.18],"nice":false},"axis":null}}},
   {"mark":{"type":"line","color":"#000000","strokeWidth":2.8},"encoding":{"y":{"field":"tax","type":"quantitative","scale":{"domain":[-0.015,0.3135],"nice":false},"axis":null}}}
  ],
  "resolve":{"scale":{"y":"independent"},"axis":{"y":"independent"}}}
]},
{"spacing":0,"vconcat":[
 {"data":{"values":[{"country":"Venezuela"}]},"width":577.7,"height":35,"view":{"fill":"#CCCCCC","stroke":null},"mark":{"type":"text","fontSize":21.5,"color":"#1A1A1A","align":"center","baseline":"middle"},"encoding":{"text":{"field":"country"}}},
 {"data":{"name":"Venezuela"},"width":577.7,"height":243.5,
  "encoding":{"x":{"field":"year","type":"quantitative","scale":{"domain":[1894.5,2005.5],"nice":false,"zero":false},"axis":{"values":[1900,1925,1950,1975,2000],"format":"d","title":null,"labelPadding":2}}},
  "layer":[
   {"mark":{"type":"bar","width":4.85,"color":"#A3C1DA"},"encoding":{"y":{"field":"riv","type":"quantitative","scale":{"domain":[-0.2,4.18],"nice":false},"axis":{"orient":"right","values":[0,1,2,3,4],"format":"d","title":null}}}},
   {"mark":{"type":"line","color":"#000000","strokeWidth":2.8},"encoding":{"y":{"field":"tax","type":"quantitative","scale":{"domain":[-0.015,0.3135],"nice":false},"axis":null}}}
  ],
  "resolve":{"scale":{"y":"independent"},"axis":{"y":"independent"}}}
]}
],
"config":{
 "font":"Liberation Sans",
 "view":{"stroke":"#D9D9D9","strokeWidth":2},
 "axis":{"grid":false,"domainColor":"#000000","domainWidth":2.5,"tickColor":"#000000","tickWidth":2.5,"tickSize":6.7,"labelFont":"Liberation Sans","labelFontSize":21.5,"labelColor":"#1A1A1A","labelPadding":3,"titleFont":"Liberation Sans","titleFontSize":26,"titleFontWeight":"normal","titleColor":"#000000","labelFlush":false,"labelOverlap":false}
}
}
